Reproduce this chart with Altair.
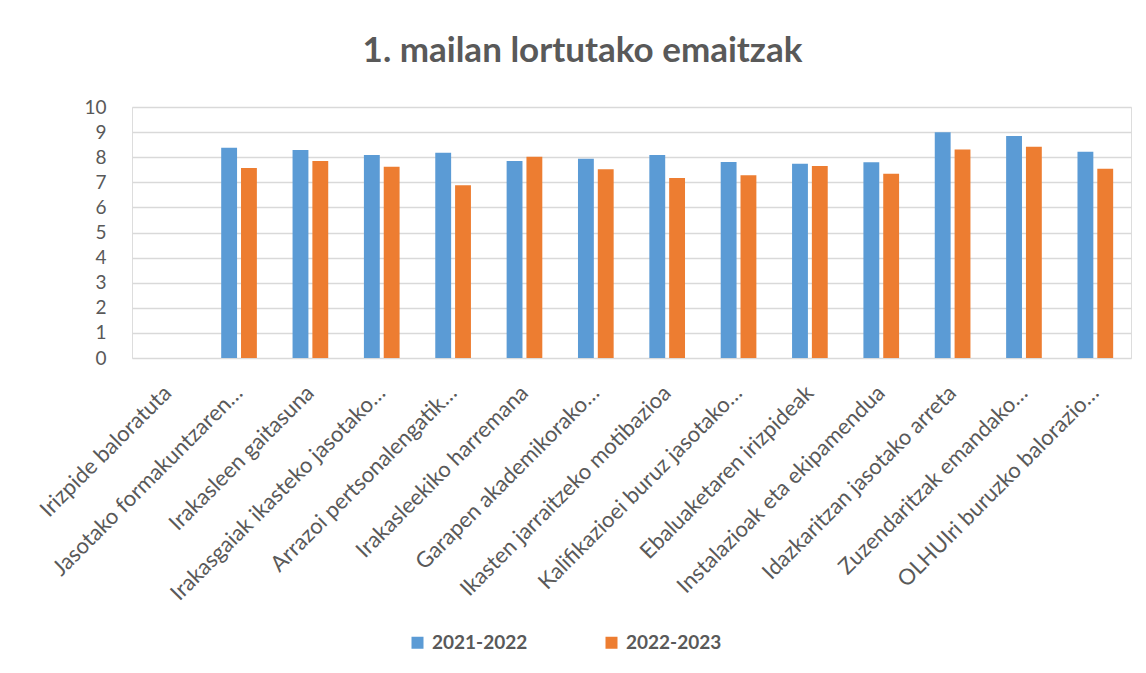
import altair as alt
import pandas as pd

categories = [
    "Irizpide baloratuta",
    "Jasotako formakuntzaren…",
    "Irakasleen gaitasuna",
    "Irakasgaiak ikasteko jasotako…",
    "Arrazoi pertsonalengatik…",
    "Irakasleekiko harremana",
    "Garapen akademikorako…",
    "Ikasten jarraitzeko motibazioa",
    "Kalifikazioei buruz jasotako…",
    "Ebaluaketaren irizpideak",
    "Instalazioak eta ekipamendua",
    "Idazkaritzan jasotako arreta",
    "Zuzendaritzak emandako…",
    "OLHUIri buruzko balorazio…",
]
series = ["2021-2022", "2022-2023"]
values_2021 = [None, 8.38, 8.29, 8.09, 8.18, 7.85, 7.94, 8.09, 7.81, 7.74, 7.80, 8.99, 8.84, 8.22]
values_2022 = [None, 7.57, 7.85, 7.62, 6.88, 8.02, 7.52, 7.17, 7.28, 7.65, 7.34, 8.31, 8.42, 7.54]
y_ticks = [0, 1, 2, 3, 4, 5, 6, 7, 8, 9, 10]

rows = []
for c, a, b in zip(categories, values_2021, values_2022):
    rows.append({"irizpidea": c, "urtea": series[0], "balioa": a})
    rows.append({"irizpidea": c, "urtea": series[1], "balioa": b})
df = pd.DataFrame(rows)

GRAY = "#595959"
FONT = "Lato"

chart = (
    alt.Chart(df)
    .mark_bar()
    .encode(
        x=alt.X(
            "irizpidea:N",
            sort=categories,
            scale=alt.Scale(domain=categories, paddingInner=0.5, paddingOuter=0.25),
            axis=alt.Axis(
                title=None,
                labelAngle=-45,
                labelAlign="right",
                labelBaseline="middle",
                labelFontSize=22,
                labelFont=FONT,
                labelColor=GRAY,
                labelPadding=31,
                labelOffset=0,
                ticks=False,
                domain=False,
                labelLimit=400,
                labelOverlap=False,
            ),
        ),
        xOffset=alt.XOffset("urtea:N", sort=series, scale=alt.Scale(paddingInner=0.2, paddingOuter=0)),
        y=alt.Y(
            "balioa:Q",
            scale=alt.Scale(domain=[0, 10], nice=False),
            axis=alt.Axis(
                title=None,
                values=y_ticks,
                labelFontSize=19,
                labelFont=FONT,
                labelColor=GRAY,
                labelPadding=26,
                ticks=False,
                domain=False,
                gridColor="#D9D9D9",
                gridWidth=1.5,
            ),
        ),
        color=alt.Color(
            "urtea:N",
            sort=series,
            scale=alt.Scale(domain=series, range=["#5B9BD5", "#ED7D31"]),
            legend=alt.Legend(
                title=None,
                orient="none",
                direction="horizontal",
                legendX=276,
                legendY=526,
                symbolType="square",
                symbolSize=144,
                symbolStrokeWidth=0,
                labelFont=FONT,
                labelFontWeight="bold",
                labelFontSize=19,
                labelColor=GRAY,
                labelOffset=5,
                columnPadding=74,
            ),
        ),
    )
    .properties(
        width=999,
        height=251,
        autosize=alt.AutoSizeParams(type="none"),
        padding={"left": 124, "top": 99, "right": 7, "bottom": 300},
        title=alt.TitleParams(
            text="1. mailan lortutako emaitzak",
            font=FONT,
            fontSize=35,
            fontWeight="bold",
            color=GRAY,
            anchor="middle",
            dx=-49,
            offset=29,
        ),
    )
    .configure_view(strokeWidth=0, stroke="transparent")
    .configure(background="white")
)

chart.save("out.html", embed_options={"renderer": "svg", "actions": False})
